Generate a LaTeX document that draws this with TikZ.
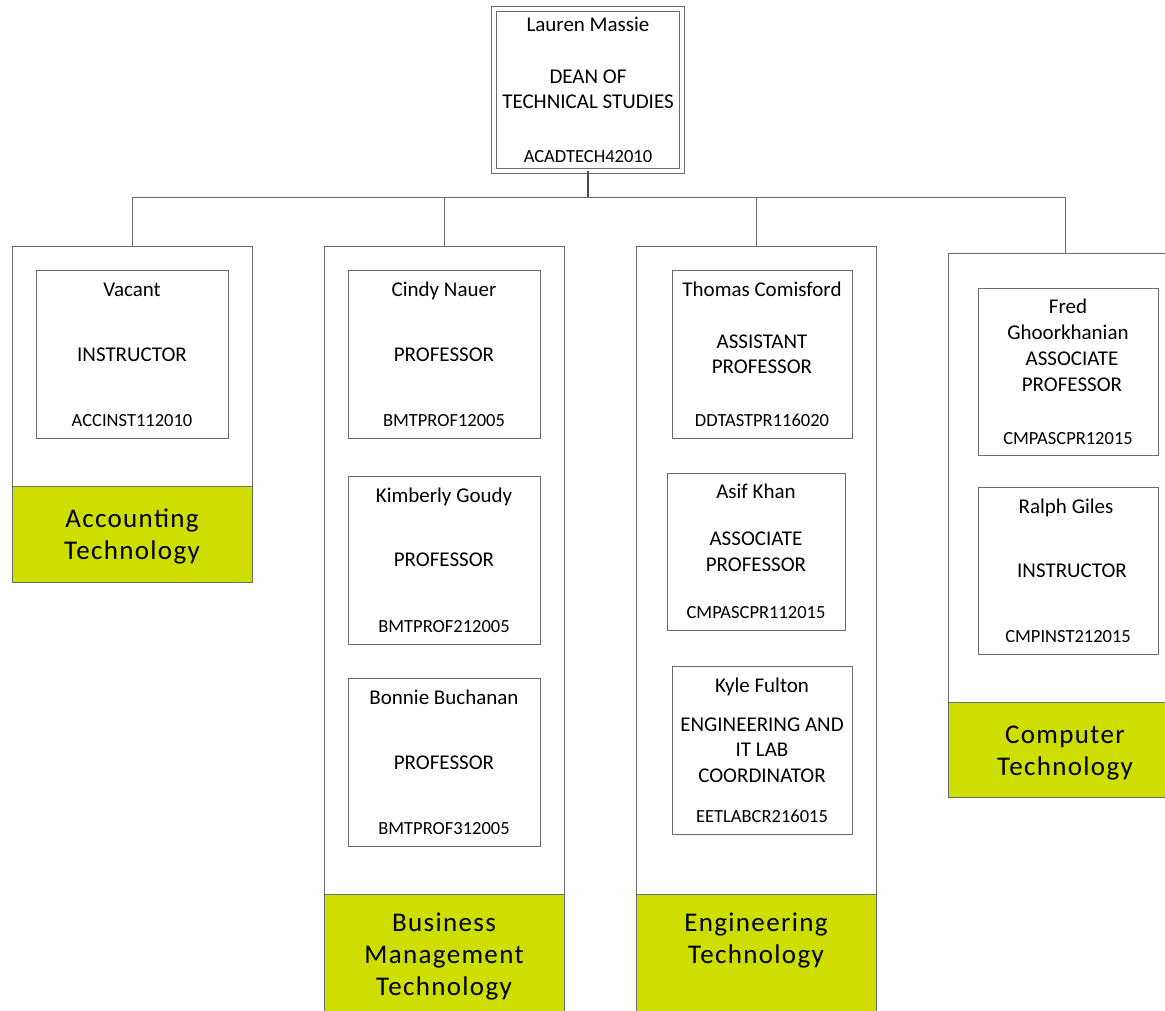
\documentclass[tikz,border=0pt]{standalone}
\usepackage{fontspec}
\setmainfont{Carlito}
\newfontfamily\deptfont[LetterSpace=5]{Carlito}
\definecolor{linegray}{RGB}{108,108,108}
\definecolor{deptgreen}{RGB}{206,223,0}
\begin{document}
\begin{tikzpicture}[x=1pt,y=-1pt,
  every node/.style={inner sep=0pt, outer sep=0pt},
  colbox/.style={draw=linegray, line width=0.9pt, fill=white},
  card/.style={draw=linegray, line width=0.9pt, fill=white},
  band/.style={draw=linegray, line width=0.9pt, fill=deptgreen},
  link/.style={draw=linegray, line width=0.9pt},
  nm/.style={font=\fontsize{21}{25}\selectfont, anchor=base},
  code/.style={font=\fontsize{18.5}{22}\selectfont, anchor=base},
  dept/.style={font=\deptfont\fontsize{27}{32}\selectfont, anchor=base}
]
\useasboundingbox (0,0) rectangle (1165,1011);
\clip (0,0) rectangle (1165,1011);

% ---------- dean ----------
\node[draw=linegray, line width=0.8pt, double, double distance=4.6pt,
      minimum width=188, minimum height=162] (dean) at (588,90) {};
\node[nm] (deanname) at (588,32) {Lauren Massie};
\node[nm] (deant1) at (588,84) {DEAN OF};
\node[nm] (deant2) at (588,109) {TECHNICAL STUDIES};
\node[code] (deanid) at (588,163) {ACADTECH42010};

% ---------- department columns ----------
\node[colbox, minimum width=240, minimum height=336] (col1) at (132,414) {};
\node[band, minimum width=240, minimum height=96] (band1) at (132,534) {};
\node[colbox, minimum width=240, minimum height=794] (col2) at (444,643) {};
\node[band, minimum width=240, minimum height=146] (band2) at (444,967) {};
\node[colbox, minimum width=240, minimum height=794] (col3) at (756,643) {};
\node[band, minimum width=240, minimum height=146] (band3) at (756,967) {};
\node[colbox, minimum width=234, minimum height=544] (col4) at (1065,525) {};
\node[band, minimum width=234, minimum height=95] (band4) at (1065,749.5) {};

\node[dept] (d1a) at (132,527) {Accounting};
\node[dept] (d1b) at (132,559) {Technology};
\node[dept] (d2a) at (444,931) {Business};
\node[dept] (d2b) at (444,963) {Management};
\node[dept] (d2c) at (444,995) {Technology};
\node[dept] (d3a) at (756,931) {Engineering};
\node[dept] (d3b) at (756,963) {Technology};
\node[dept] (d4a) at (1065,743) {Computer};
\node[dept] (d4b) at (1065,775) {Technology};

% ---------- connectors ----------
\coordinate (bus) at (588,197);
\draw[draw=black!70, line width=1.3pt] (dean.south) -- (bus);
\draw[link] (col1.north) -- (col1.north |- bus) -- (col4.north |- bus) -- (col4.north);
\draw[link] (col2.north) -- (col2.north |- bus);
\draw[link] (col3.north) -- (col3.north |- bus);

% ---------- Accounting Technology ----------
\node[card, minimum width=192, minimum height=168] (acc1) at (132,354) {};
\node[nm] (acc1n) at (132,296) {Vacant};
\node[nm] (acc1t) at (132,361) {INSTRUCTOR};
\node[code] (acc1i) at (132,426) {ACCINST112010};

% ---------- Business Management Technology ----------
\node[card, minimum width=192, minimum height=168] (bmt1) at (444,354) {};
\node[nm] (bmt1n) at (444,296) {Cindy Nauer};
\node[nm] (bmt1t) at (444,361) {PROFESSOR};
\node[code] (bmt1i) at (444,426) {BMTPROF12005};

\node[card, minimum width=192, minimum height=168] (bmt2) at (444,560) {};
\node[nm] (bmt2n) at (444,502) {Kimberly Goudy};
\node[nm] (bmt2t) at (444,566) {PROFESSOR};
\node[code] (bmt2i) at (444,632) {BMTPROF212005};

\node[card, minimum width=192, minimum height=168] (bmt3) at (444,762) {};
\node[nm] (bmt3n) at (444,704) {Bonnie Buchanan};
\node[nm] (bmt3t) at (444,769) {PROFESSOR};
\node[code] (bmt3i) at (444,834) {BMTPROF312005};

% ---------- Engineering Technology ----------
\node[card, minimum width=180, minimum height=168] (eng1) at (762,354) {};
\node[nm] (eng1n) at (762,296) {Thomas Comisford};
\node[nm] (eng1t1) at (762,348) {ASSISTANT};
\node[nm] (eng1t2) at (762,373) {PROFESSOR};
\node[code] (eng1i) at (762,426) {DDTASTPR116020};

\node[card, minimum width=178, minimum height=157] (eng2) at (756,551.5) {};
\node[nm] (eng2n) at (756,498) {Asif Khan};
\node[nm] (eng2t1) at (756,545) {ASSOCIATE};
\node[nm] (eng2t2) at (756,571) {PROFESSOR};
\node[code] (eng2i) at (756,618) {CMPASCPR112015};

\node[card, minimum width=180, minimum height=168] (eng3) at (762,750) {};
\node[nm] (eng3n) at (762,692) {Kyle Fulton};
\node[nm] (eng3t1) at (762,731) {ENGINEERING AND};
\node[nm] (eng3t2) at (762,756) {IT LAB};
\node[nm] (eng3t3) at (762,782) {COORDINATOR};
\node[code] (eng3i) at (762,822) {EETLABCR216015};

% ---------- Computer Technology ----------
\node[card, minimum width=180, minimum height=167] (cmp1) at (1068,371.5) {};
\node[nm] (cmp1n1) at (1068,313) {Fred};
\node[nm] (cmp1n2) at (1068,339) {Ghoorkhanian};
\node[nm] (cmp1t1) at (1072,365) {ASSOCIATE};
\node[nm] (cmp1t2) at (1072,391) {PROFESSOR};
\node[code] (cmp1i) at (1068,444) {CMPASCPR12015};

\node[card, minimum width=180, minimum height=167] (cmp2) at (1068,570.5) {};
\node[nm] (cmp2n) at (1066,513) {Ralph Giles};
\node[nm] (cmp2t) at (1072,577) {INSTRUCTOR};
\node[code] (cmp2i) at (1068,642) {CMPINST212015};
\end{tikzpicture}
\end{document}
